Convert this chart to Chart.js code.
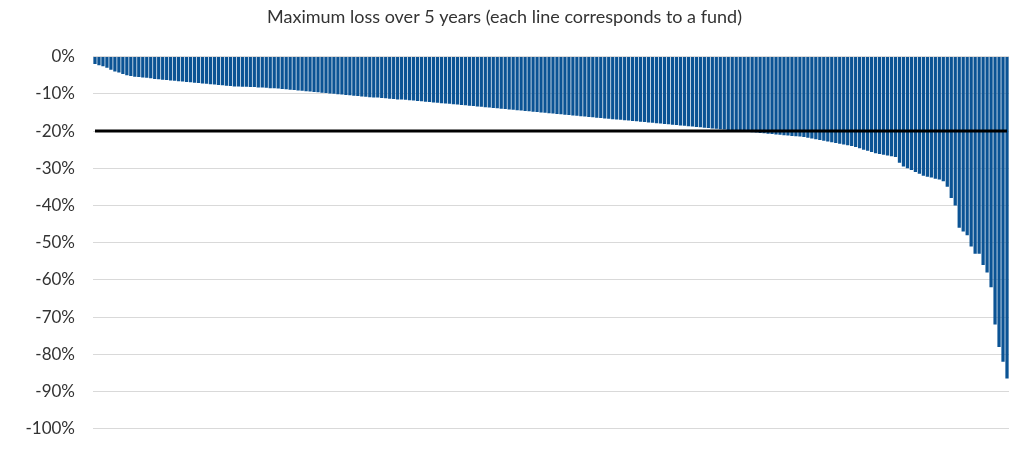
<!DOCTYPE html>
<html><head><meta charset="utf-8">
<script src="https://cdn.jsdelivr.net/npm/chart.js@4"></script>
<style>html,body{margin:0;background:#fff}#w{width:1015px;height:457px}</style>
</head><body><div id="w"><canvas id="c"></canvas></div>
<script>
const lossValues = [
-2,-2.3,-2.6,-3,-3.5,-4,-4.3,-4.7,-5,-5.2,
-5.4,-5.5,-5.6,-5.7,-5.8,-6,-6.1,-6.2,-6.3,-6.4,
-6.5,-6.6,-6.7,-6.8,-6.9,-7,-7.1,-7.2,-7.3,-7.4,
-7.5,-7.6,-7.7,-7.8,-7.9,-8,-8,-8.1,-8.1,-8.2,
-8.2,-8.3,-8.3,-8.4,-8.5,-8.5,-8.6,-8.7,-8.8,-8.9,
-9,-9.1,-9.2,-9.3,-9.4,-9.5,-9.6,-9.7,-9.8,-9.9,
-10,-10.1,-10.2,-10.3,-10.4,-10.5,-10.6,-10.7,-10.8,-10.9,
-11,-11,-11.1,-11.2,-11.3,-11.4,-11.5,-11.5,-11.6,-11.7,
-11.8,-11.9,-12,-12.1,-12.2,-12.3,-12.4,-12.5,-12.6,-12.7,
-12.8,-12.9,-13,-13.1,-13.2,-13.3,-13.4,-13.5,-13.6,-13.7,
-13.8,-13.9,-14,-14.1,-14.2,-14.3,-14.4,-14.5,-14.6,-14.7,
-14.8,-14.9,-15,-15.1,-15.2,-15.3,-15.4,-15.5,-15.6,-15.7,
-15.8,-15.9,-16,-16.1,-16.2,-16.3,-16.4,-16.5,-16.6,-16.7,
-16.8,-16.9,-17,-17.1,-17.2,-17.3,-17.4,-17.5,-17.6,-17.7,
-17.8,-17.9,-18,-18.1,-18.2,-18.3,-18.4,-18.5,-18.6,-18.7,
-18.8,-18.9,-19,-19.1,-19.2,-19.3,-19.4,-19.5,-19.6,-19.7,
-19.8,-19.9,-20,-20.1,-20.2,-20.3,-20.4,-20.5,-20.6,-20.7,
-20.8,-20.9,-21,-21.1,-21.2,-21.3,-21.4,-21.5,-21.6,-21.8,
-22,-22.2,-22.4,-22.6,-22.8,-23,-23.2,-23.4,-23.6,-23.8,
-24,-24.3,-24.6,-25,-25.3,-25.6,-26,-26.2,-26.4,-26.6,
-26.8,-27,-28.5,-29.5,-30,-30.5,-31,-31.5,-32,-32.3,
-32.5,-32.8,-33,-33.5,-35,-38,-40,-46,-47,-48,
-51,-53,-53,-56,-58,-62,-72,-78,-82,-86.5];
const funds = lossValues.map((v,i)=>'Fund '+(i+1));
const threshold = lossValues.map(()=> -20);
const yTicks = [0,-10,-20,-30,-40,-50,-60,-70,-80,-90,-100];
const titleText = 'Maximum loss over 5 years (each line corresponds to a fund)';

new Chart(document.getElementById('c'), {
  data: { labels: funds, datasets: [
    { type:'line', data: threshold, borderColor:'#000', borderWidth:3, pointRadius:0, order:0 },
    { type:'bar', data: lossValues, backgroundColor:'#0b5394', barPercentage:0.82, categoryPercentage:1, order:1 }
  ]},
  options: {
    responsive:true, maintainAspectRatio:false, animation:false,
    layout:{padding:{left:0,right:6,top:0,bottom:4}},
    plugins:{ legend:{display:false}, tooltip:{enabled:false},
      title:{display:true,text:titleText,color:'#333',font:{family:'Lato',size:18,weight:'normal'},padding:{top:6,bottom:29}} },
    scales:{
      x:{ offset:true, ticks:{display:false}, grid:{display:false}, border:{display:false} },
      y:{ min:-100, max:0, afterBuildTicks:a=>{a.ticks=yTicks.map(v=>({value:v}));},
        afterFit:s=>{s.width=93;},
        ticks:{ callback:v=>v+'%', color:'#333', font:{family:'Lato',size:17}, padding:18 },
        grid:{color:'#d9d9d9', drawTicks:false}, border:{display:false} }
    }
  }
});
</script></body></html>
